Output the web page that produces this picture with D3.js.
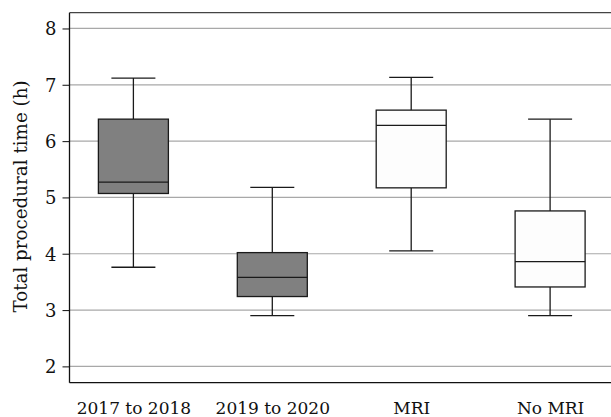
<!DOCTYPE html>
<html>
<head>
<meta charset="utf-8">
<script src="https://cdn.jsdelivr.net/npm/d3@7"></script>
<style>
  html, body { margin: 0; padding: 0; background: #fff; }
  svg { display: block; }
  text { font-family: "DejaVu Serif", "Liberation Serif", serif; fill: #111; }
</style>
</head>
<body>
<svg id="chart" width="611" height="417"></svg>
<script>
const categories = ["2017 to 2018", "2019 to 2020", "MRI", "No MRI"];
const whiskerLow  = [3.76, 2.90, 4.05, 2.90];
const q1          = [5.07, 3.24, 5.17, 3.41];
const median      = [5.27, 3.58, 6.28, 3.86];
const q3          = [6.39, 4.02, 6.55, 4.76];
const whiskerHigh = [7.12, 5.18, 7.13, 6.39];
const boxFills    = ["#808080", "#808080", "#fdfdfd", "#fdfdfd"];
const yTicks      = [2, 3, 4, 5, 6, 7, 8];
const yLabel      = "Total procedural time (h)";

const FONT = "'DejaVu Serif', 'Liberation Serif', serif";
const svg = d3.select("#chart");
const mLeft = 69.5, mRight = 614, mTop = 12.7, mBottom = 382.7;

const x = d3.scalePoint().domain(categories).range([mLeft, mRight]).padding(0.46);
const y = d3.scaleLinear().domain([1.71, 8.28]).range([mBottom, mTop]);

// gridlines
svg.append("g").selectAll("line").data(yTicks).join("line")
  .attr("x1", mLeft).attr("x2", mRight)
  .attr("y1", d => y(d)).attr("y2", d => y(d))
  .attr("stroke", "#a8a8a8").attr("stroke-width", 1.2);

// top frame
svg.append("line").attr("x1", mLeft).attr("x2", mRight)
  .attr("y1", mTop).attr("y2", mTop)
  .attr("stroke", "#444").attr("stroke-width", 1.3);

// y axis
const yAxis = d3.axisLeft(y).tickValues(yTicks).tickSize(7).tickPadding(6).tickFormat(d3.format("d"));
const gy = svg.append("g").attr("transform", `translate(${mLeft},0)`).call(yAxis);
gy.select(".domain").remove();
gy.attr("font-family", null);
gy.selectAll(".tick line").attr("stroke", "#222").attr("stroke-width", 1.1);
gy.selectAll(".tick text").style("font-size", "18px").attr("fill", "#111")
  .style("font-family", FONT).attr("dy", "0.36em");
svg.append("line").attr("x1", mLeft).attr("x2", mLeft).attr("y1", mTop).attr("y2", mBottom)
  .attr("stroke", "#111").attr("stroke-width", 1.3);

// x axis
const xAxis = d3.axisBottom(x).tickSize(0).tickPadding(0);
const gx = svg.append("g").attr("transform", `translate(0,${mBottom})`).call(xAxis);
gx.select(".domain").remove();
gx.attr("font-family", null);
gx.selectAll(".tick text").style("font-size", "17px").attr("fill", "#111")
  .style("font-family", FONT).attr("dy", null).attr("y", 31);
svg.append("line").attr("x1", mLeft).attr("x2", mRight).attr("y1", mBottom).attr("y2", mBottom)
  .attr("stroke", "#111").attr("stroke-width", 1.3);

// y label
svg.append("text")
  .attr("transform", `translate(27,${(80 + 313) / 2}) rotate(-90)`)
  .attr("text-anchor", "middle")
  .style("font-size", "18.3px").style("font-family", FONT)
  .text(yLabel);

// boxes
const boxW = 70, capW = 44;
const idx = d3.range(categories.length);
const g = svg.append("g").attr("stroke", "#1a1a1a").attr("stroke-width", 1.3);
idx.forEach(i => {
  const cx = x(categories[i]);
  g.append("line").attr("x1", cx).attr("x2", cx).attr("y1", y(whiskerHigh[i])).attr("y2", y(q3[i]));
  g.append("line").attr("x1", cx).attr("x2", cx).attr("y1", y(q1[i])).attr("y2", y(whiskerLow[i]));
  g.append("line").attr("x1", cx - capW / 2).attr("x2", cx + capW / 2).attr("y1", y(whiskerHigh[i])).attr("y2", y(whiskerHigh[i]));
  g.append("line").attr("x1", cx - capW / 2).attr("x2", cx + capW / 2).attr("y1", y(whiskerLow[i])).attr("y2", y(whiskerLow[i]));
  g.append("rect").attr("x", cx - boxW / 2).attr("width", boxW)
    .attr("y", y(q3[i])).attr("height", y(q1[i]) - y(q3[i]))
    .attr("fill", boxFills[i]);
  g.append("line").attr("x1", cx - boxW / 2).attr("x2", cx + boxW / 2).attr("y1", y(median[i])).attr("y2", y(median[i]));
});
</script>
</body>
</html>
